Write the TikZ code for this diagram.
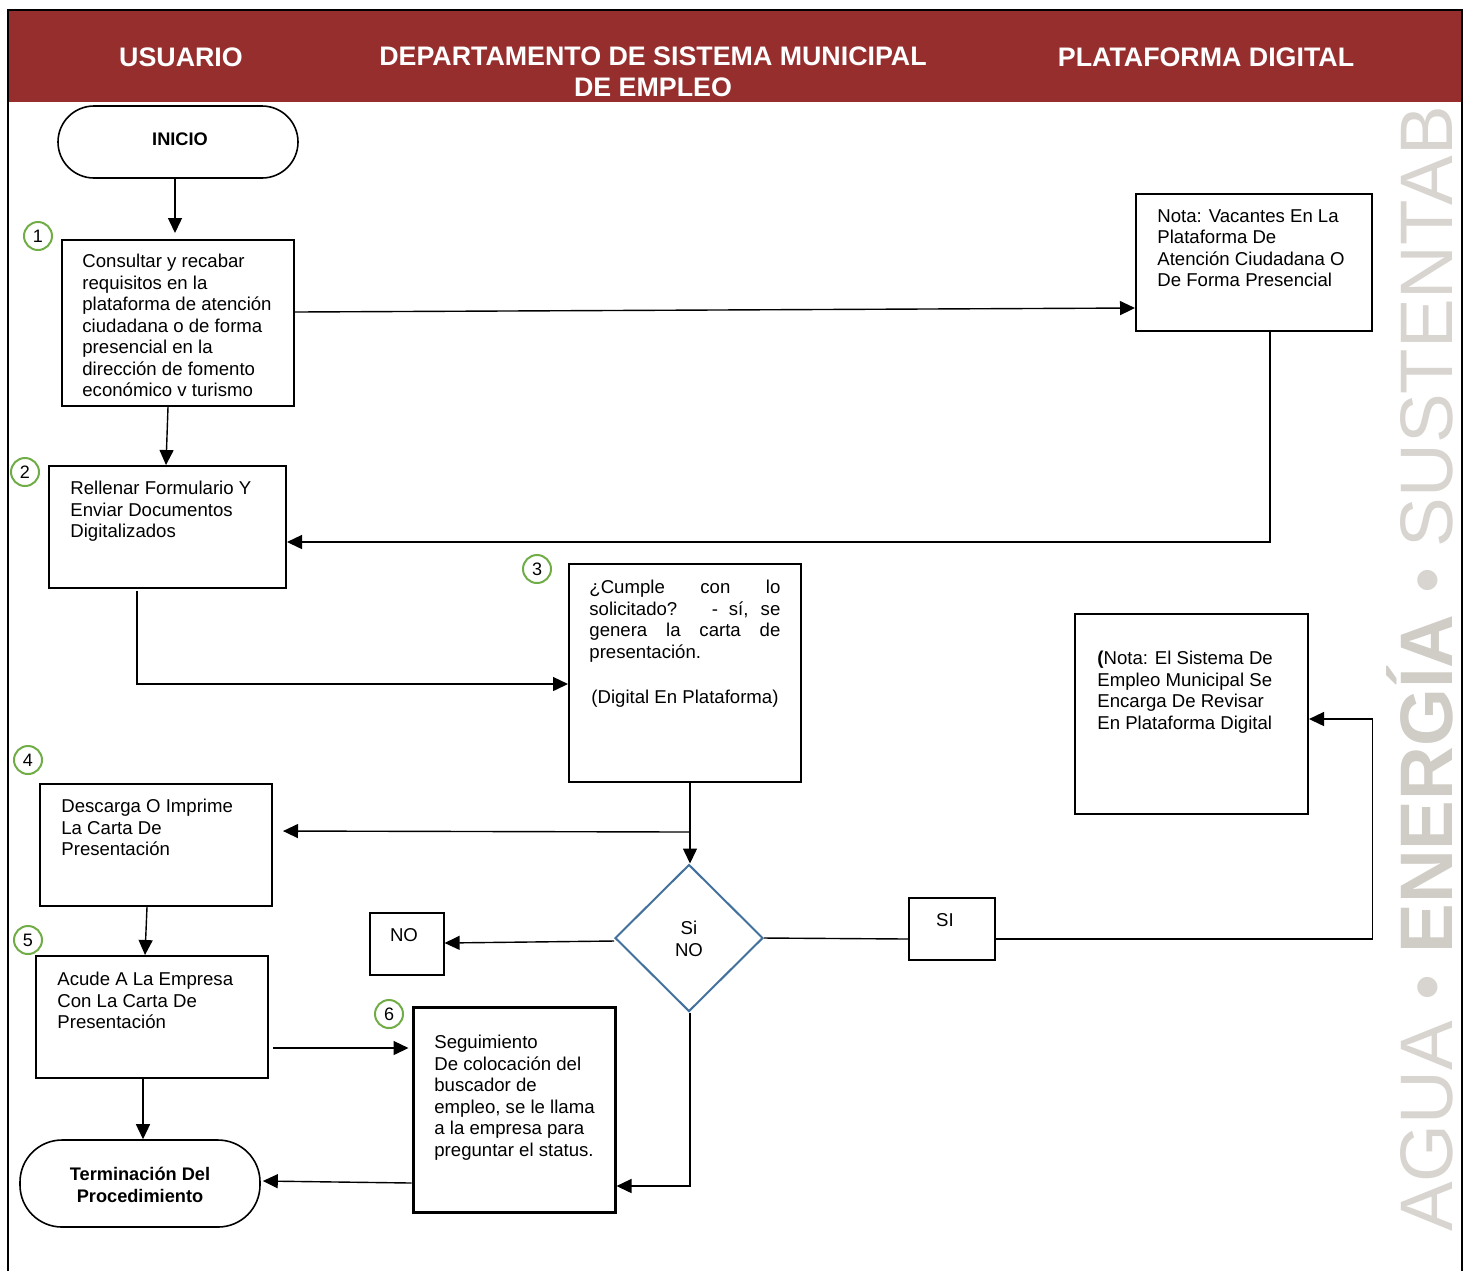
\documentclass[tikz,border=0pt]{standalone}
\usepackage{fontspec}
\setmainfont{Liberation Sans}
\usetikzlibrary{arrows.meta,calc,shapes.geometric}
\definecolor{headred}{RGB}{150,46,46}
\definecolor{stepgreen}{RGB}{112,173,71}
\definecolor{decblue}{RGB}{65,113,156}
\definecolor{wmgray}{RGB}{208,204,198}
\definecolor{wmlight}{RGB}{216,212,207}
\begin{document}
\begin{tikzpicture}[x=0.5pt,y=-0.5pt,
  box/.style={draw,line width=1pt,rectangle,inner sep=0pt},
  term/.style={draw,line width=0.8pt,rectangle,rounded corners=18pt,inner sep=0pt},
  txt/.style={inner sep=0pt,anchor=north west,align=left,font=\fontsize{9.3}{10.75}\selectfont},
  ctxt/.style={inner sep=0pt,align=center,font=\fontsize{9.3}{10.75}\selectfont},
  btxt/.style={inner sep=0pt,align=center,font=\fontsize{9.1}{11}\selectfont\bfseries},
  stepnum/.style={draw=stepgreen,line width=1pt,circle,minimum size=14pt,inner sep=0pt,font=\fontsize{9}{10}\selectfont},
  arr/.style={line width=0.7pt,-{Triangle[length=7.5pt,width=7pt]}},
  ln/.style={line width=0.7pt},
  head/.style={text=white,font=\fontsize{13.4}{15.5}\selectfont\bfseries,align=center,inner sep=0pt}]
\useasboundingbox (0,0) rectangle (1470,1271);

% watermark along the right margin
\node[rotate=90,anchor=base west,inner sep=0pt,text=wmlight,
      font=\fontsize{37.2}{40}\selectfont] (wm) at (1452,1232)
  {AGUA • \textcolor{wmgray}{\textbf{ENERGÍA}} • SUSTENTAB};

% header band and frame
\fill[headred] (8,11) rectangle (1462,102);
\draw[line width=1pt] (8,1271) -- (8,10) -- (1462,10) -- (1462,1271);
\node[head] (h1) at (181,57) {USUARIO};
\node[head] (h2) at (653,72) {DEPARTAMENTO DE SISTEMA MUNICIPAL\\DE EMPLEO};
\node[head] (h3) at (1206,57) {PLATAFORMA DIGITAL};

% start / end terminals
\node[term,minimum width=120pt,minimum height=36pt] (inicio) at (178,142) {};
\node[btxt] at (180,139) {INICIO};
\node[term,rounded corners=21pt,minimum width=120pt,minimum height=43.5pt] (fin) at (140,1183.5) {};
\node[btxt] at (140,1185) {Terminación Del\\Procedimiento};

% process boxes
\node[box,minimum width=116pt,minimum height=83pt] (b1) at (178,323) {};
\node[txt] at (82,254) {Consultar y recabar\\requisitos en la\\plataforma de atención\\ciudadana o de forma\\presencial en la\\dirección de fomento\\económico v turismo};

\node[box,minimum width=118pt,minimum height=68.5pt] (nota1) at (1254,262.5) {};
\node[txt] at (1157,209) {Nota: Vacantes En La\\Plataforma De\\Atención Ciudadana O\\De Forma Presencial};

\node[box,minimum width=118.5pt,minimum height=61pt] (b2) at (167.5,527) {};
\node[txt] at (70,481) {Rellenar Formulario Y\\Enviar Documentos\\Digitalizados};

\node[box,minimum width=116pt,minimum height=109pt] (b3) at (685,673) {};
\node[txt] at (589,580) {%
  \makebox[95.5pt][s]{¿Cumple con lo}\\
  \makebox[95.5pt][s]{solicitado? \ - sí, se}\\
  \makebox[95.5pt][s]{genera la carta de}\\
  presentación.};
\node[ctxt] at (685,699) {(Digital En Plataforma)};

\node[box,minimum width=116.5pt,minimum height=100pt] (nota2) at (1191.5,714) {};
\node[txt] at (1097,651) {\textbf{(}Nota: El Sistema De\\Empleo Municipal Se\\Encarga De Revisar\\En Plataforma Digital};

\node[box,minimum width=116pt,minimum height=61pt] (b4) at (156,845) {};
\node[txt] at (61,799) {Descarga O Imprime\\La Carta De\\Presentación};

\node[box,minimum width=116pt,minimum height=61pt] (b5) at (152,1017) {};
\node[txt] at (57,972) {Acude A La Empresa\\Con La Carta De\\Presentación};

\node[box,line width=1.5pt,minimum width=101pt,minimum height=102.5pt] (b6) at (514,1109.5) {};
\node[txt] at (434,1035) {Seguimiento\\De colocación del\\buscador de\\empleo, se le llama\\a la empresa para\\preguntar el status.};

% decision
\node[draw=decblue,line width=1pt,diamond,inner sep=0pt,minimum width=74pt,minimum height=73.5pt] (dia) at (689,938) {};
\node[ctxt] at (689,939) {Si\\NO};

\node[draw,line width=0.6pt,rectangle,inner sep=0pt,minimum width=37pt,minimum height=31pt] (nobox) at (407,944) {};
\node[ctxt] at (404,935) {NO};
\node[draw,line width=0.6pt,rectangle,inner sep=0pt,minimum width=43pt,minimum height=31pt] (sibox) at (952,929) {};
\node[ctxt] at (945,920) {SI};

% step numbers
\node[stepnum] (c1) at (38,236) {1};
\node[stepnum] (c2) at (25,472) {2};
\node[stepnum] (c3) at (537,569) {3};
\node[stepnum] (c4) at (28,760) {4};
\node[stepnum] (c5) at (28,940) {5};
\node[stepnum] (c6) at (389,1014) {6};

% connectors
\draw[arr,shorten >=3pt] ($(inicio.south)+(-3,0)$) -- ($(b1.north)+(-3,0)$);
\draw[arr] ($(b1.east)+(0,-11)$) -- ($(nota1.west)+(0,45.5)$);
\draw[arr] ($(b1.south)+(-10,0)$) -- ($(b2.north)+(-1.5,0)$);
\draw[arr] ($(nota1.south)+(16,0)$) |- ($(b2.east)+(0,15)$);
\draw[arr] ($(b2.south)+(-30.5,2)$) |- ($(b3.west)+(0,11)$);
\coordinate (split) at ($(b3.south)+(5,49)$);
\draw[arr] ($(b3.south)+(5,0)$) -- ($(dia.north)+(1,0)$);
\draw[arr,shorten >=5pt] (split) -- ($(b4.east)+(0,-14)$);
\draw[arr] ($(dia.west)+(0,3)$) -- ($(nobox.east)+(0,-1)$);
\draw[ln] (dia.east) -- ($(sibox.west)+(0,10)$);
\draw[arr] ($(sibox.east)+(0,10)$) -- ++(377,0) |- ($(nota2.east)+(0,5)$);
\draw[arr] ($(dia.south)+(1,0)$) |- ($(b6.east)+(0,76.5)$);
\draw[arr] ($(b4.south)+(-9,0)$) -- ($(b5.north)+(-7,0)$);
\draw[arr,shorten >=1.5pt] ($(b5.east)+(4,31)$) -- ($(b6.west)+(0,-61.5)$);
\draw[arr] ($(b6.west)+(0,73.5)$) -- ($(fin.east)+(2,-2.5)$);
\draw[arr] ($(b5.south)+(-9,0)$) -- ($(fin.north)+(3,0)$);
\end{tikzpicture}
\end{document}
